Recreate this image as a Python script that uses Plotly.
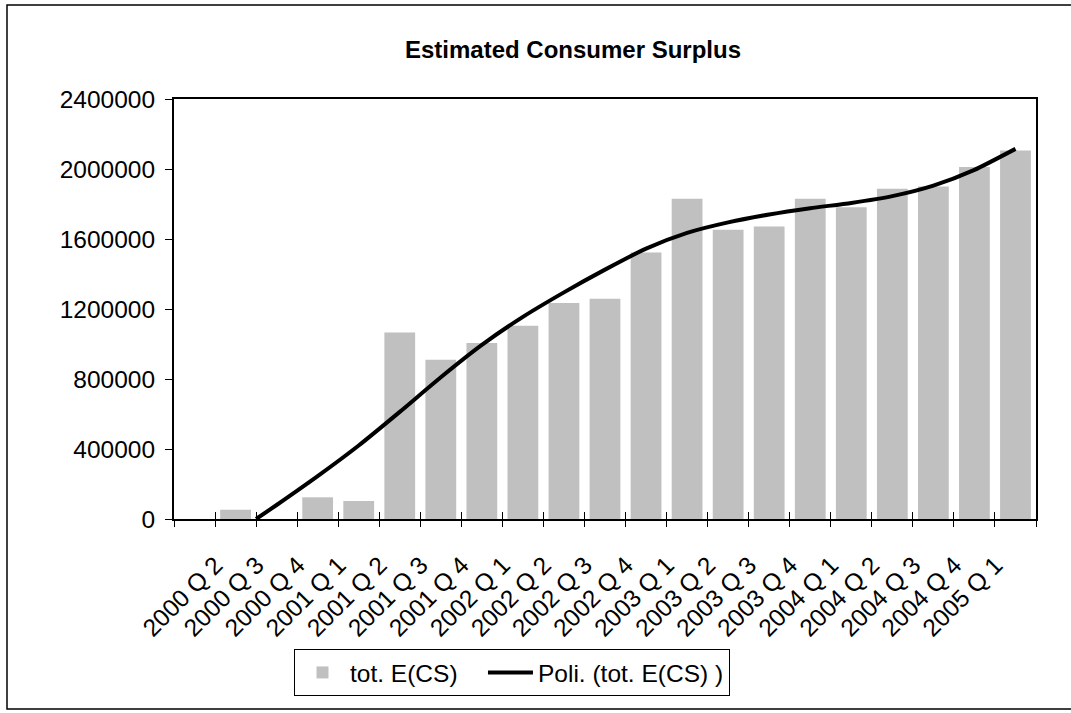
import plotly.graph_objects as go

# ---- data ----
categories = ["", "2000 Q 2", "2000 Q 3", "2000 Q 4", "2001 Q 1", "2001 Q 2", "2001 Q 3",
              "2001 Q 4", "2002 Q 1", "2002 Q 2", "2002 Q 3", "2002 Q 4", "2003 Q 1",
              "2003 Q 2", "2003 Q 3", "2003 Q 4", "2004 Q 1", "2004 Q 2", "2004 Q 3",
              "2004 Q 4", "2005 Q 1"]
tot_ecs = [0, 53000, 0, 124000, 103000, 1066000, 910000, 1006000, 1104000, 1235000,
           1258000, 1523000, 1830000, 1653000, 1672000, 1830000, 1781000, 1887000,
           1900000, 2012000, 2106000]
# polynomial trend line (category position, value)
trend_pos = [2.5, 3, 4, 5, 6, 7, 8, 9, 10, 11, 12, 13, 14, 15, 16, 17, 18, 19, 20, 21]
trend_val = [0, 80000, 245000, 420000, 612000, 810000, 995000, 1155000, 1295000, 1425000,
             1545000, 1635000, 1695000, 1740000, 1776000, 1806000, 1845000, 1905000,
             1995000, 2115000]
y_ticks = [0, 400000, 800000, 1200000, 1600000, 2000000, 2400000]
bar_name = "tot. E(CS)"
trend_name = "Poli. (tot. E(CS) )"

n = len(categories)
pos = list(range(1, n + 1))
bounds = [p - 0.5 for p in pos] + [n + 0.5]

FONT = "Liberation Sans, Arial, sans-serif"
W, H = 1071, 713
L, R, T, B = 174, 1036, 99, 519

fig = go.Figure()
fig.add_trace(go.Bar(x=pos, y=tot_ecs, name=bar_name + "\u00a0\u00a0\u00a0", width=0.75,
                     marker=dict(color="#c0c0c0", line=dict(width=0))))
fig.add_trace(go.Scatter(x=trend_pos, y=trend_val, name=trend_name,
                         mode="lines", line=dict(color="black", width=4, shape="spline", smoothing=0.6)))
# dummy traces so the tick-only overlay axes are drawn
fig.add_trace(go.Scatter(x=[None], y=[None], xaxis="x2", showlegend=False, hoverinfo="skip"))
fig.add_trace(go.Scatter(x=[None], y=[None], xaxis="x3", showlegend=False, hoverinfo="skip"))

xr = [0.5, n + 0.5]
fig.update_layout(
    width=W, height=H,
    margin=dict(l=L, r=W - R, t=T, b=H - B, pad=0),
    paper_bgcolor="white", plot_bgcolor="white",
    font=dict(family=FONT, size=24, color="black"),
    title=dict(text="<b>Estimated Consumer Surplus</b>", x=573 / W, xanchor="center",
               y=1 - 50 / H, yanchor="middle", font=dict(size=24, family=FONT, color="black")),
    bargap=0.25,
    xaxis=dict(range=xr, tickmode="array", tickvals=pos, ticktext=categories, tickangle=-45,
               ticks="", showline=True, linewidth=2, linecolor="black", mirror=True,
               showgrid=False, zeroline=False, tickfont=dict(size=24.5),
               ticklabelshift=-20, ticklabelstandoff=20),
    xaxis2=dict(range=xr, overlaying="x", anchor="y", side="bottom", tickmode="array",
                tickvals=bounds, ticks="outside", ticklen=7, tickwidth=1, tickcolor="black",
                showticklabels=False, showline=False, showgrid=False, zeroline=False),
    xaxis3=dict(range=xr, overlaying="x", anchor="y", side="bottom", tickmode="array",
                tickvals=bounds, ticks="inside", ticklen=7, tickwidth=1, tickcolor="black",
                showticklabels=False, showline=False, showgrid=False, zeroline=False),
    yaxis=dict(range=[0, 2400000], tickmode="array", tickvals=y_ticks, tickformat="d",
               ticks="outside", ticklen=7, tickwidth=1, tickcolor="black",
               showline=True, linewidth=2, linecolor="black", mirror=True,
               showgrid=False, zeroline=False, tickfont=dict(size=24.5),
               ticklabelstandoff=5),
    legend=dict(orientation="h", x=(294 - L) / (R - L), y=-(649 - B) / (B - T),
                xanchor="left", yanchor="top", bordercolor="black", borderwidth=1,
                bgcolor="white", font=dict(size=24.5, family=FONT), traceorder="normal",
                itemwidth=45),
    showlegend=True,
)
# outer chart border
fig.add_shape(type="rect", xref="paper", yref="paper",
              x0=(7 - L) / (R - L), x1=(1090 - L) / (R - L),
              y0=-(709 - B) / (B - T), y1=(B - 5) / (B - T),
              line=dict(color="black", width=1.5), fillcolor="rgba(0,0,0,0)", layer="below")

fig.write_html("out.html", config={"displayModeBar": False},
               post_script="document.body.style.margin='0';document.body.style.overflow='hidden';")
